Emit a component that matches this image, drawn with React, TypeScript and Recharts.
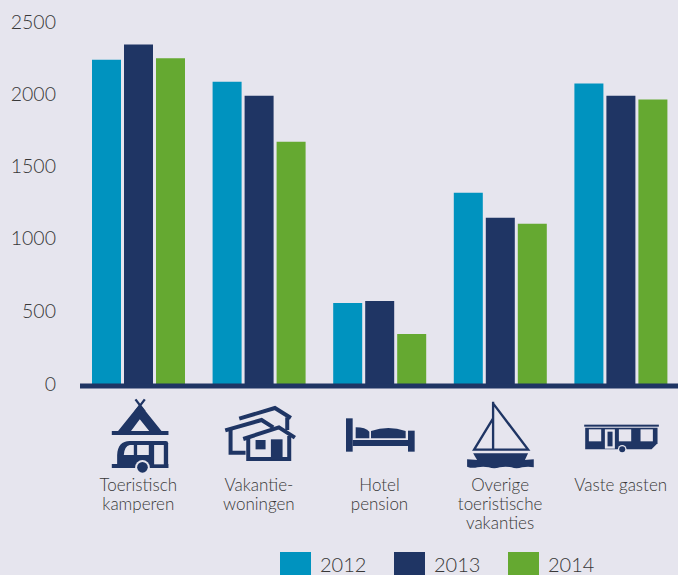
import { Bar, BarChart, Legend, ReferenceLine, XAxis, YAxis } from "recharts"

const categories = ["Toeristisch kamperen", "Vakantie-woningen", "Hotel pension", "Overige toeristische vakanties", "Vaste gasten"]
const categoryLines = [
  ["Toeristisch", "kamperen"],
  ["Vakantie-", "woningen"],
  ["Hotel", "pension"],
  ["Overige", "toeristische", "vakanties"],
  ["Vaste gasten"],
]
const values2012 = [2240, 2088, 560, 1320, 2075]
const values2013 = [2344, 1990, 574, 1148, 1990]
const values2014 = [2250, 1673, 346, 1106, 1964]
const yTicks = [0, 500, 1000, 1500, 2000, 2500]
const seriesNames = ["2012", "2013", "2014"]

const BG = "#e6e5ee"
const NAVY = "#1f3564"
const colors = ["#0093bf", NAVY, "#65a931"]
const TEXT = "#383838"
const FONT = "Lato, 'Open Sans', sans-serif"

const data = categories.map((name, i) => ({
  name,
  y2012: values2012[i],
  y2013: values2013[i],
  y2014: values2014[i],
}))

// icons are drawn at 3x, hence the scale in the tick
function TentIcon() {
  return (
    <g fill={NAVY}>
      <path d="M167 58 L195 95 M195 58 L167 95" stroke={NAVY} strokeWidth={7} fill="none" />
      <path d="M180 72 L247 155 L210 155 L180 118 L152 155 L113 155 Z" />
      <rect x={96} y={153} width={170} height={12} />
      <path d="M112 252 L112 225 Q114 183 150 183 L258 183 Q265 183 265 190 L265 252 Z" />
      <rect x={96} y={252} width={170} height={12} />
      <path d="M150 195 L162 195 L162 225 L132 225 Q134 198 150 195 Z M172 195 L207 195 L207 225 L172 225 Z" fill={BG} />
      <rect x={223} y={195} width={29} height={58} fill={BG} />
      <circle cx={188} cy={262} r={22} fill={BG} />
      <circle cx={188} cy={262} r={16} />
    </g>
  )
}

function HousesIcon() {
  return (
    <g fill="none" stroke={NAVY} strokeWidth={12}>
      <path d="M478 116 L585 84 L633 114" />
      <path d="M622 112 L622 150" />
      <path d="M436 151 L545 120 L580 142" />
      <path d="M452 150 L452 218 L497 218" />
      <path d="M490 177 L597 142 L645 173" />
      <path d="M505 172 L505 237 L628 237 L628 168" />
      <rect x={527} y={180} width={30} height={28} fill={NAVY} stroke="none" />
      <rect x={573} y={178} width={35} height={60} fill={NAVY} stroke="none" />
    </g>
  )
}

function BedIcon() {
  return (
    <g fill={NAVY}>
      <rect x={33} y={40} width={20} height={100} />
      <rect x={219} y={77} width={20} height={63} />
      <rect x={53} y={105} width={166} height={18} />
      <path d="M62 67 Q92 67 103 80 L103 100 L62 100 Z" />
      <path d="M108 100 L108 78 Q160 60 212 78 L212 100 Z" />
    </g>
  )
}

function BoatIcon() {
  return (
    <g fill={NAVY}>
      <path d="M345 65 L345 210 M345 70 L450 209 L288 209 L345 115" stroke={NAVY} strokeWidth={7} fill="none" />
      <path d="M285 220 L450 220 L438 245 L300 245 Z" />
      <path d="M267 238 L300 240 L438 240 L467 238 L467 262 Q450 258 432 262 Q415 268 400 262 Q382 258 365 262 Q348 268 332 262 Q315 258 298 262 Q282 266 267 260 Z" />
    </g>
  )
}

function CaravanIcon() {
  return (
    <g fill={NAVY}>
      <rect x={618} y={134} width={224} height={6} />
      <path d="M621 143 L838 143 L838 190 L820 208 L621 208 Z" />
      <rect x={632} y={148} width={37} height={36} fill={BG} />
      <rect x={722} y={148} width={37} height={36} fill={BG} />
      <rect x={787} y={148} width={37} height={36} fill={BG} />
      <rect x={680} y={148} width={30} height={58} fill={BG} />
      <rect x={688} y={155} width={15} height={44} />
      <circle cx={732} cy={208} r={13} fill={BG} />
      <circle cx={732} cy={208} r={9} />
    </g>
  )
}

const icons = [
  { Icon: TentIcon, dx: -58.5, dy: -4 },
  { Icon: HousesIcon, dx: -179, dy: -4 },
  { Icon: BedIcon, dx: -44.5, dy: 21 },
  { Icon: BoatIcon, dx: -122, dy: -4 },
  { Icon: CaravanIcon, dx: -242.5, dy: -4 },
]

function CategoryTick({ x, y, index }: any) {
  const { Icon, dx, dy } = icons[index]
  return (
    <g>
      <g transform={`translate(${x + dx},${y + dy}) scale(${1 / 3})`}>
        <Icon />
      </g>
      <text textAnchor="middle" fontFamily={FONT} fontWeight={300} fontSize={17} fill={TEXT}>
        {categoryLines[index].map((line, i) => (
          <tspan key={line} x={x} y={y + 107 + i * 19}>
            {line}
          </tspan>
        ))}
      </text>
    </g>
  )
}

function YearLegend() {
  return (
    <div style={{ position: "relative", width: 340, height: 31 }}>
      {seriesNames.map((name, i) => (
        <div key={name} style={{ position: "absolute", left: i * 114, top: 0, display: "flex" }}>
          <div style={{ width: 31, height: 31, background: colors[i] }} />
          <div
            style={{
              marginLeft: 9,
              fontFamily: FONT,
              fontWeight: 300,
              fontSize: 20,
              lineHeight: "24px",
              color: TEXT,
            }}
          >
            {name}
          </div>
        </div>
      ))}
    </div>
  )
}

export default function App() {
  return (
    <div style={{ width: 678, height: 575, overflow: "hidden", background: BG, position: "relative" }}>
      <style>{"body{margin:0;overflow:hidden}"}</style>
      <BarChart
        width={678}
        height={575}
        data={data}
        barSize={29}
        barGap={3}
        margin={{ top: 22, right: -3, bottom: 0, left: 0 }}
      >
        <XAxis
          dataKey="name"
          axisLine={false}
          tickLine={false}
          tickSize={0}
          tickMargin={0}
          interval={0}
          height={191}
          tick={<CategoryTick />}
        />
        <YAxis
          domain={[0, 2500]}
          ticks={yTicks}
          width={78}
          axisLine={false}
          tickLine={false}
          tickSize={0}
          tick={({ y, payload }: any) => (
            <text
              x={56}
              y={y + (payload.value > 0 && payload.value < 2000 ? 6 : 7)}
              textAnchor="end"
              fontFamily={FONT}
              fontWeight={300}
              fontSize={19.5}
              fill={TEXT}
            >
              {payload.value}
            </text>
          )}
        />
        <Legend
          layout="horizontal"
          verticalAlign="middle"
          align="center"
          content={<YearLegend />}
          wrapperStyle={{ left: 280, top: 552, width: 340, height: 31, bottom: "auto", right: "auto", margin: 0 }}
        />
        <Bar dataKey="y2012" name="2012" fill={colors[0]} isAnimationActive={false} />
        <Bar dataKey="y2013" name="2013" fill={colors[1]} isAnimationActive={false} />
        <Bar dataKey="y2014" name="2014" fill={colors[2]} isAnimationActive={false} />
        <ReferenceLine
          y={0}
          shape={({ x1, x2, y1 }: any) => (
            <line x1={x1 + 2} x2={x2} y1={y1 + 2} y2={y1 + 2} stroke={NAVY} strokeWidth={5} />
          )}
        />
      </BarChart>
    </div>
  )
}
